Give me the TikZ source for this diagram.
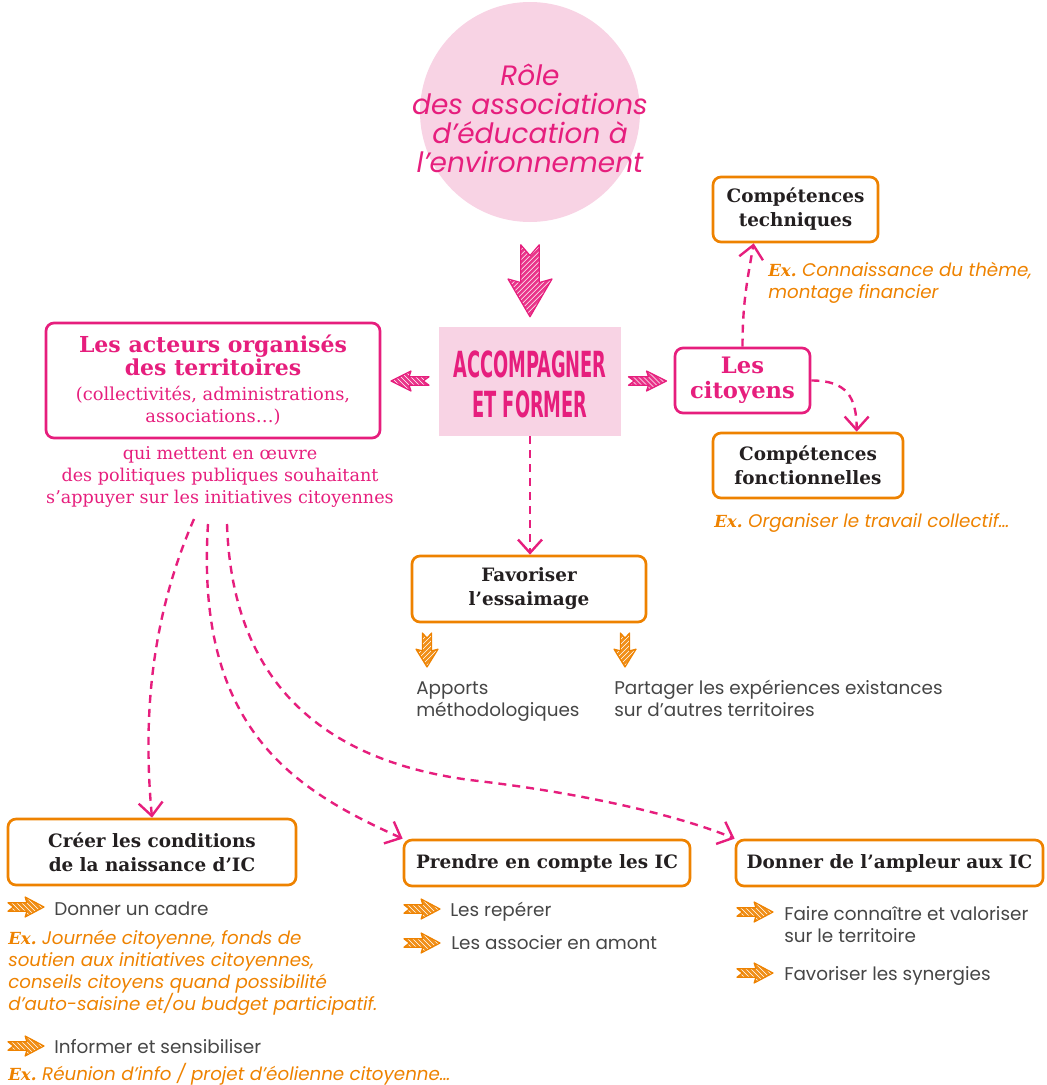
\documentclass[tikz,border=0pt]{standalone}
\usepackage{fontspec}
\setmainfont{Poppins}
\newfontfamily\slab{DejaVu Serif}
\newfontfamily\poster{DejaVu Sans Condensed}
\usetikzlibrary{arrows.meta,calc}

\definecolor{accpink}{RGB}{230,30,125}
\definecolor{lightpink}{RGB}{248,211,228}
\definecolor{accorange}{RGB}{238,130,0}
\definecolor{textgrey}{RGB}{70,70,70}
\definecolor{titlegrey}{RGB}{35,31,32}

\newcommand\ex{{\slab\bfseries\itshape\fontsize{12.5}{15}\selectfont Ex.}}
\newcommand\tightlines{\lineskiplimit=-10pt\relax}

\tikzset{
  pinkbox/.style={draw=accpink, line width=2pt, rounded corners=6pt, align=center, text=accpink, inner sep=0pt},
  orangebox/.style={draw=accorange, line width=2pt, rounded corners=6pt, align=center, text=titlegrey, inner sep=0pt,
    font=\slab\bfseries\fontsize{13.8}{18}\selectfont\tightlines},
  dasharrow/.style={accpink, line width=1.8pt, dash pattern=on 6pt off 4.5pt,
    -{Straight Barb[length=10pt,width=18pt]}},
  greytext/.style={anchor=base west, inner sep=0pt, align=left, text=textgrey,
    font=\fontsize{13.8}{16.5}\selectfont\tightlines},
  extext/.style={anchor=base west, inner sep=0pt, align=left, text=accorange,
    font=\itshape\fontsize{13.7}{16.5}\selectfont\tightlines},
  pics/hatcharrow/.style n args={3}{code={
    \fill[#1!90] (-#2,-0.42*#3) -- (0.05*#2,-0.42*#3) -- (-0.05*#2,-#3) -- (#2,0) -- (-0.05*#2,#3)
      -- (0.05*#2,0.42*#3) -- (-#2,0.42*#3) -- (-0.7*#2,0) -- cycle;
    \begin{scope}
      \clip (-#2,-0.42*#3) -- (0.05*#2,-0.42*#3) -- (-0.05*#2,-#3) -- (#2,0) -- (-0.05*#2,#3)
        -- (0.05*#2,0.42*#3) -- (-#2,0.42*#3) -- (-0.7*#2,0) -- cycle;
      \foreach \k in {-65,-60,...,65}
        \draw[white, line width=0.45pt] (\k-#3,-#3) -- (\k+#3,#3);
    \end{scope}
    \draw[#1, line width=0.9pt, line join=round] (-#2,-0.42*#3) -- (0.05*#2,-0.42*#3) -- (-0.05*#2,-#3) -- (#2,0)
      -- (-0.05*#2,#3) -- (0.05*#2,0.42*#3) -- (-#2,0.42*#3) -- (-0.7*#2,0) -- cycle;
  }}
}

\begin{document}
\begin{tikzpicture}[x=0.75pt,y=-0.75pt]

	\useasboundingbox (0,0) rectangle (1046,1085);

	\node[circle, fill=lightpink, minimum size=165pt, inner sep=0pt] (role) at (530,112) {};
	\node[align=center, text=accpink, font=\itshape\fontsize{21}{21.75}\selectfont\tightlines]
		(roletext) at (530,118) {Rôle\\des associations\\d’éducation à\\l’environnement};

	\node[fill=lightpink, minimum width=136.5pt, minimum height=81.75pt, inner sep=0pt] (accomp) at (530,381.5) {};
	\node[align=center, text=accpink, font=\poster\bfseries\fontsize{27}{30}\selectfont] (accomptext) at (530,384.5)
		{\scalebox{0.55}[1]{ACCOMPAGNER}\\\scalebox{0.55}[1]{ET FORMER}};

	\pic[rotate=-90] at ($(role.south)!0.56!(accomp.north)$) {hatcharrow={accpink}{36}{22}};

	\node[pinkbox, minimum width=250.5pt, minimum height=86.25pt,
		font=\slab\fontsize{13.4}{17}\selectfont\tightlines] (acteurs) at (213,380.5)
		{{\bfseries\fontsize{16.5}{17}\selectfont Les acteurs organisés}\\
		 {\bfseries\fontsize{16.5}{17}\selectfont des territoires}\\[1.5pt]
		 (collectivités, administrations,\\
		 associations…)};

	\node[align=center, text=accpink, font=\slab\fontsize{13.2}{16.5}\selectfont\tightlines] (qui) at (220,477)
		{qui mettent en œuvre\\des politiques publiques souhaitant\\s’appuyer sur les initiatives citoyennes};

	\node[pinkbox, minimum width=101.25pt, minimum height=48.75pt,
		font=\slab\bfseries\fontsize{17}{18.75}\selectfont\tightlines] (citoyens) at (742.5,380.5) {Les\\citoyens};

	\pic[rotate=180] at ($(acteurs.east)!0.5!(accomp.west)$) {hatcharrow={accpink}{19}{10}};
	\pic at ($(accomp.east)!0.5!(citoyens.west)$) {hatcharrow={accpink}{19}{10}};

	\node[orangebox, minimum width=123.75pt, minimum height=48.75pt] (techniques) at (795.5,209.5)
		{Compétences\\techniques};

	\node[extext] (extech) at (768,298) {\ex\ Connaissance du thème,\\montage financier};

	\node[orangebox, minimum width=142.5pt, minimum height=48.75pt] (fonct) at (808,465.5)
		{Compétences\\fonctionnelles};

	\node[extext] (exfonct) at (714,527) {\ex\ Organiser le travail collectif…};

	\draw[dasharrow] (citoyens.north) .. controls +(0,-45) and +(-6,35) .. ($(techniques.south west)+(42,0)$);
	\draw[dasharrow] (citoyens.east) .. controls +(35,0) and +(0,-35) .. ($(fonct.north west)+(145,0)$);

	\node[orangebox, minimum width=175.5pt, minimum height=49.5pt] (essaimage) at (529,589)
		{Favoriser\\l’essaimage};

	\draw[dasharrow] (accomp.south) -- (accomp.south |- essaimage.north);

	\pic[rotate=-90] at (427,650) {hatcharrow={accorange}{17}{11}};
	\pic[rotate=-90] at (625,650) {hatcharrow={accorange}{17}{11}};

	\node[greytext] (apports) at (416,716) {Apports\\méthodologiques};
	\node[greytext] (partager) at (614,716) {Partager les expériences existances\\sur d’autres territoires};

	\node[orangebox, minimum width=216pt, minimum height=49.5pt] (creer) at (152,852)
		{Créer les conditions\\de la naissance d’IC};
	\node[orangebox, minimum width=214.5pt, minimum height=34.5pt] (prendre) at (547,863)
		{Prendre en compte les IC};
	\node[orangebox, minimum width=230.25pt, minimum height=34.5pt] (ampleur) at (889.5,863)
		{Donner de l’ampleur aux IC};

	\coordinate (q1) at (194,519);
	\coordinate (q2) at (208,524);
	\coordinate (q3) at (227,524);

	\draw[dasharrow] (q1) .. controls (150,620) and (143,720) .. (creer.north);
	\draw[dasharrow] (q2) .. controls (195,730) and (295,790) .. (prendre.north west);
	\draw[dasharrow] (q3) .. controls (232,680) and (320,760) .. (470,780)
		.. controls (600,795) and (690,820) .. (ampleur.north west);

	\pic at (26,907) {hatcharrow={accorange}{18}{10}};
	\node[greytext] (cadre) at (54,915) {Donner un cadre};
	\node[extext] (excadre) at (8,1010) {\ex\ Journée citoyenne, fonds de\\soutien aux initiatives citoyennes,\\conseils citoyens quand possibilité\\d’auto-saisine et/ou budget participatif.};
	\pic at (26,1046) {hatcharrow={accorange}{18}{10}};
	\node[greytext] (informer) at (54,1053) {Informer et sensibiliser};
	\node[extext] (exinformer) at (8,1080) {\ex\ Réunion d’info / projet d’éolienne citoyenne…};

	\pic at (422,909) {hatcharrow={accorange}{18}{10}};
	\node[greytext] (reperer) at (450,916) {Les repérer};
	\pic at (422,943) {hatcharrow={accorange}{18}{10}};
	\node[greytext] (associer) at (451,949) {Les associer en amont};

	\pic at (755,912) {hatcharrow={accorange}{18}{10}};
	\node[greytext] (connaitre) at (784,942) {Faire connaître et valoriser\\sur le territoire};
	\pic at (755,973) {hatcharrow={accorange}{18}{10}};
	\node[greytext] (synergies) at (784,980) {Favoriser les synergies};
\end{tikzpicture}
\end{document}
